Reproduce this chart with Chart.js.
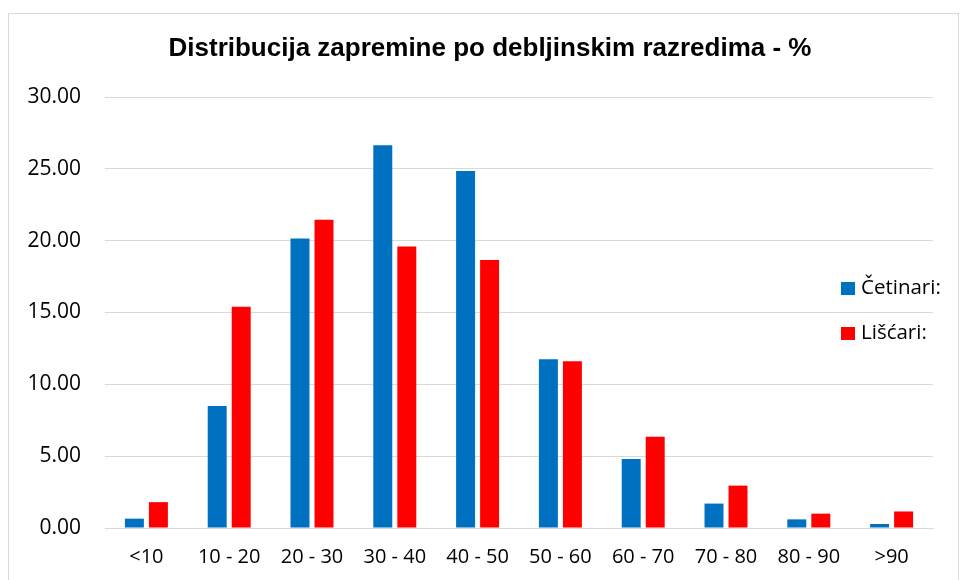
<!DOCTYPE html>
<html>
<head>
<meta charset="utf-8">
<script src="https://cdn.jsdelivr.net/npm/chart.js@4.4.1/dist/chart.umd.min.js"></script>
<style>
  html, body { margin: 0; padding: 0; background: #fff; }
  #wrap { position: relative; width: 960px; height: 580px; overflow: hidden; }
  #frame { position: absolute; left: 8px; top: 13px; width: 949px; height: 600px;
           border: 1px solid #d9d9d9; pointer-events: none; }
  canvas { position: absolute; left: 0; top: 0; }
</style>
</head>
<body>
<div id="wrap">
  <canvas id="chart" width="960" height="580"></canvas>
  <div id="frame"></div>
</div>
<script>
// data
var categories = ["<10", "10 - 20", "20 - 30", "30 - 40", "40 - 50", "50 - 60", "60 - 70", "70 - 80", "80 - 90", ">90"];
var cetinari = [0.65, 8.5, 20.15, 26.65, 24.85, 11.75, 4.8, 1.7, 0.6, 0.28];
var liscari = [1.8, 15.4, 21.45, 19.6, 18.65, 11.6, 6.35, 2.95, 1.0, 1.15];
var yTicks = [0, 5, 10, 15, 20, 25, 30];

Chart.defaults.font.family = "'Open Sans', sans-serif";
Chart.defaults.color = "#000";

// title in the reference is a bit right of the canvas centre
var shiftTitle = {
  id: "shiftTitle",
  afterLayout: function(chart) {
    var t = chart.titleBlock;
    if (t) {
      t.left = 47;
      t.width = t.right - t.left;
    }
  }
};

// legend sits inside the plot area on the right, like in Excel
var insideLegend = {
  id: "insideLegend",
  afterDraw: function(chart) {
    var c = chart.ctx;
    var ys = [288.5, 333.5];
    c.save();
    c.font = "20.5px 'Open Sans', sans-serif";
    c.textBaseline = "middle";
    c.textAlign = "left";
    chart.data.datasets.forEach(function(ds, i) {
      c.fillStyle = ds.backgroundColor;
      c.fillRect(841, ys[i] - 6.5, 14, 13);
      c.fillStyle = "#000";
      c.fillText(ds.label, 861, ys[i]);
    });
    c.restore();
  }
};

var data = {
  labels: categories,
  datasets: [
    {
      label: "Četinari:",
      data: cetinari,
      backgroundColor: "#0070C0",
      categoryPercentage: 0.58,
      barPercentage: 0.79
    },
    {
      label: "Lišćari:",
      data: liscari,
      backgroundColor: "#FF0000",
      categoryPercentage: 0.58,
      barPercentage: 0.79
    }
  ]
};

var options = {
  responsive: false,
  animation: false,
  layout: { padding: { left: 20, right: 27, top: 27, bottom: 0 } },
  plugins: {
    legend: { display: false },
    tooltip: { enabled: false },
    title: {
      display: true,
      text: "Distribucija zapremine po debljinskim razredima - %",
      color: "#000",
      font: { family: "'Liberation Sans', Arial, sans-serif", size: 26, weight: "bold" },
      padding: { top: 6.4, bottom: 32.4 }
    }
  },
  scales: {
    x: {
      grid: { display: false, drawTicks: false },
      border: { display: true, color: "#d9d9d9", width: 1 },
      ticks: { font: { size: 20 }, padding: 17, maxRotation: 0, autoSkip: false },
      afterFit: function(scale) { scale.height = 52; }
    },
    y: {
      min: 0,
      max: 30,
      afterBuildTicks: function(scale) {
        scale.ticks = yTicks.map(function(v) { return { value: v }; });
      },
      grid: { color: "#d9d9d9", lineWidth: 1, drawTicks: false },
      border: { display: false },
      ticks: {
        font: { size: 21 },
        padding: 24,
        callback: function(v) { return Number(v).toFixed(2); }
      },
      afterFit: function(scale) { scale.width = 85; }
    }
  }
};

var chart = new Chart(document.getElementById("chart"), {
  type: "bar",
  data: data,
  options: options,
  plugins: [shiftTitle, insideLegend]
});
</script>
</body>
</html>
